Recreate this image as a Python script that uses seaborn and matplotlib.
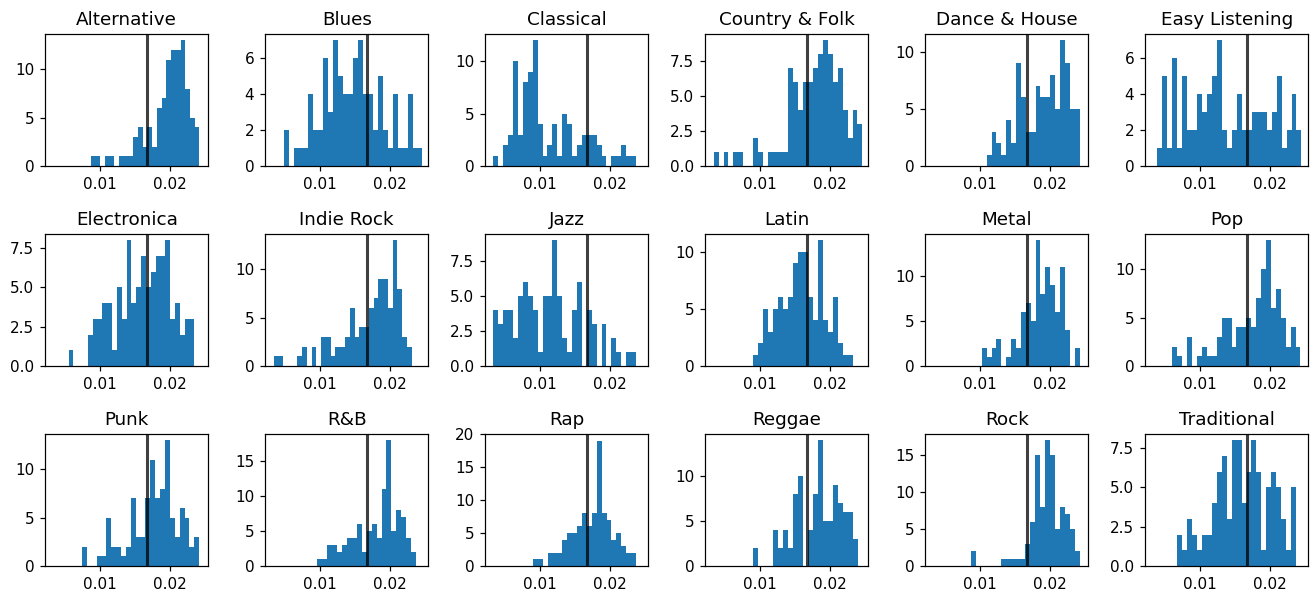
import numpy as np
import pandas as pd
import matplotlib
matplotlib.use("Agg")
import matplotlib.pyplot as plt
import seaborn as sns

# Genres, one panel each (row-major order)
genres = [
    "Alternative", "Blues", "Classical", "Country & Folk", "Dance & House", "Easy Listening",
    "Electronica", "Indie Rock", "Jazz", "Latin", "Metal", "Pop",
    "Punk", "R&B", "Rap", "Reggae", "Rock", "Traditional",
]

# Histogram range (first and last bin edge) per genre
bin_lo = [0.00867, 0.00481, 0.00335, 0.00337, 0.01095, 0.00388,
          0.00552, 0.00337, 0.00335, 0.00899, 0.01024, 0.00606,
          0.00741, 0.00962, 0.00901, 0.00899, 0.00871, 0.00673]
bin_hi = [0.02419, 0.02461, 0.02368, 0.02461, 0.02419, 0.02447,
          0.02344, 0.02308, 0.02368, 0.02332, 0.02419, 0.02433,
          0.02415, 0.02370, 0.02368, 0.02404, 0.02419, 0.02370]

# Per-bin counts per genre
alternative = [1, 1, 0, 1, 1, 0, 1, 1, 1, 3, 4, 2, 4, 2, 6, 7, 11, 12, 12, 13, 8, 5, 4]
blues = [2, 0, 1, 1, 1, 4, 2, 2, 6, 3, 7, 5, 4, 4, 6, 7, 4, 4, 2, 5, 2, 1, 4, 1, 1, 4, 1, 1]
classical = [1, 0, 2, 3, 10, 3, 8, 9, 12, 4, 1, 2, 4, 1, 5, 4, 1, 2, 3, 3, 3, 2, 1, 0, 1, 1, 2, 1, 1]
country_folk = [1, 0, 1, 0, 1, 1, 0, 0, 2, 1, 0, 1, 1, 1, 1, 7, 6, 4, 6, 6, 7, 8, 9, 8, 6, 7, 4, 2, 4, 3]
dance_house = [1, 3, 2, 1, 4, 2, 9, 6, 3, 3, 7, 6, 6, 8, 5, 11, 9, 5, 5]
easy_listening = [1, 5, 1, 6, 1, 5, 2, 2, 4, 3, 4, 5, 7, 2, 1, 2, 4, 2, 2, 3, 3, 3, 2, 3, 5, 1, 2, 4, 2]
electronica = [1, 0, 0, 0, 2, 3, 3, 4, 4, 1, 5, 3, 8, 4, 5, 7, 5, 6, 7, 7, 8, 3, 4, 2, 3, 3]
indie_rock = [1, 1, 0, 0, 0, 1, 2, 0, 2, 0, 3, 3, 1, 2, 2, 3, 6, 3, 4, 4, 6, 7, 9, 9, 6, 13, 8, 3, 2]
jazz = [4, 3, 4, 4, 2, 5, 6, 5, 4, 1, 5, 5, 9, 5, 2, 1, 4, 6, 0, 4, 3, 0, 3, 0, 2, 1, 0, 1, 1]
latin = [1, 2, 5, 3, 5, 6, 5, 6, 9, 10, 10, 6, 4, 11, 4, 3, 6, 2, 1, 1]
metal = [2, 1, 2, 3, 0, 1, 3, 2, 6, 7, 5, 14, 8, 11, 9, 6, 11, 4, 0, 2]
pop = [2, 1, 0, 3, 0, 1, 2, 1, 1, 3, 5, 5, 2, 4, 4, 5, 4, 7, 10, 13, 6, 8, 5, 2, 4, 2]
punk = [2, 0, 0, 1, 1, 5, 2, 2, 1, 2, 7, 3, 3, 7, 11, 7, 8, 13, 5, 3, 6, 5, 2, 3]
rnb = [1, 1, 3, 3, 2, 3, 4, 4, 6, 2, 5, 6, 4, 11, 18, 5, 8, 7, 4, 2]
rap = [1, 1, 0, 2, 2, 2, 4, 5, 5, 6, 8, 6, 8, 19, 8, 7, 4, 5, 3, 2, 2]
reggae = [2, 0, 0, 0, 4, 2, 4, 2, 8, 10, 0, 4, 8, 14, 5, 5, 9, 7, 6, 6, 3]
rock = [2, 0, 0, 0, 0, 0, 1, 1, 1, 1, 1, 3, 6, 15, 8, 17, 15, 5, 8, 7, 5, 2]
traditional = [2, 1, 3, 2, 1, 2, 2, 4, 6, 7, 3, 8, 8, 4, 6, 8, 6, 1, 5, 6, 5, 3, 1, 5]

genre_counts = [alternative, blues, classical, country_folk, dance_house, easy_listening,
                electronica, indie_rock, jazz, latin, metal, pop,
                punk, rnb, rap, reggae, rock, traditional]

# Overall mean, marked on every panel
overall_mean = 0.01668

x_ticks = [0.01, 0.02]

DPI = 110
fig = plt.figure(figsize=(1314 / DPI, 594 / DPI), dpi=DPI)
axes = fig.subplots(3, 6)
fig.subplots_adjust(left=0.0342, right=0.9958, top=0.9428, bottom=0.0471,
                    wspace=0.3456, hspace=0.515)

for ax, name, counts, lo, hi in zip(axes.flat, genres, genre_counts, bin_lo, bin_hi):
    counts = np.asarray(counts, dtype=float)
    edges = np.linspace(lo, hi, len(counts) + 1)
    frame = pd.DataFrame({"value": 0.5 * (edges[:-1] + edges[1:]), "count": counts})
    sns.histplot(data=frame, x="value", weights="count", bins=edges.tolist(), ax=ax,
                 color="#1f77b4", alpha=1.0, linewidth=0, edgecolor="none")
    ax.axvline(overall_mean, color="black", alpha=0.75, linewidth=2)
    ax.set_title(name)
    ax.set_xlabel("")
    ax.set_ylabel("")
    ax.set_xlim(0.00214, 0.02547)
    ax.set_xticks(x_ticks)

    # 5% headroom above the tallest bar; keep a tick that sits right at the top edge
    top = counts.max() * 1.05
    ax.set_ylim(0, top)
    ticks = ax.yaxis.get_major_locator().tick_values(0, top)
    ticks = [t for t in ticks if 0 <= t <= top * 1.005]
    ax.set_yticks(ticks)
    ax.set_ylim(0, max(top, ticks[-1]))

fig.savefig("out.png", dpi=DPI)
